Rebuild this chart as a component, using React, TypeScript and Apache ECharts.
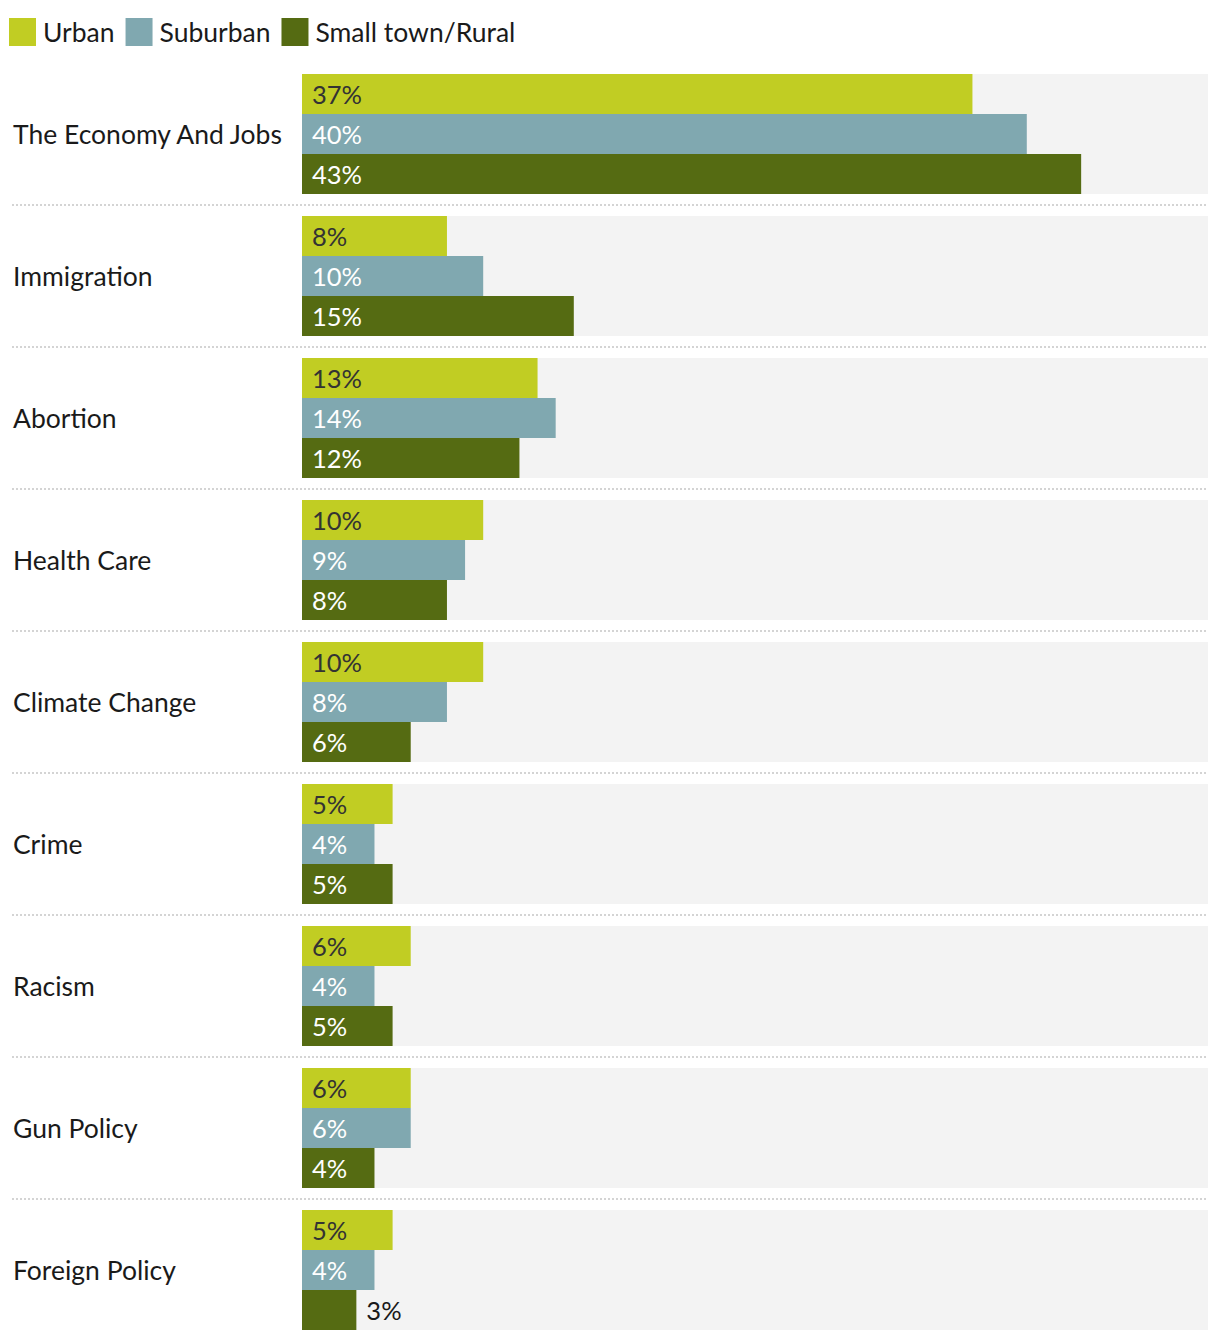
import React, { useEffect, useRef } from "react";
import * as echarts from "echarts";

const categories = [
  "The Economy And Jobs",
  "Immigration",
  "Abortion",
  "Health Care",
  "Climate Change",
  "Crime",
  "Racism",
  "Gun Policy",
  "Foreign Policy",
];
const seriesNames = ["Urban", "Suburban", "Small town/Rural"];
const urban = [37, 8, 13, 10, 10, 5, 6, 6, 5];
const suburban = [40, 10, 14, 9, 8, 4, 4, 6, 4];
const rural = [43, 15, 12, 8, 6, 5, 5, 4, 3];

const colors = ["#c1cd23", "#80a8b0", "#556b12"];
const labelColors = ["#333333", "#ffffff", "#ffffff"];
const FONT = "Lato, sans-serif";

export default function App() {
  const ref = useRef<HTMLDivElement>(null);
  useEffect(() => {
    if (!ref.current) return;
    const chart = echarts.init(ref.current, null, { renderer: "svg" });
    const all = [urban, suburban, rural];
    const series: any[] = all.map((vals, i) => ({
      name: seriesNames[i],
      type: "bar",
      xAxisIndex: 0,
      yAxisIndex: 0,
      barWidth: 40,
      barGap: "0%",
      showBackground: true,
      backgroundStyle: { color: "#f3f3f3" },
      itemStyle: { color: colors[i] },
      label: {
        show: true,
        position: "insideLeft",
        distance: 10,
        formatter: "{c}%",
        fontSize: 25.5,
        fontWeight: 400,
        fontFamily: FONT,
        color: labelColors[i],
      },
      data: vals.map((v) =>
        v < 4
          ? { value: v, label: { position: "right", distance: 10, color: "#1a1a1a" } }
          : v
      ),
    }));
    series.push({
      type: "line",
      xAxisIndex: 1,
      yAxisIndex: 1,
      data: [],
      silent: true,
    });
    chart.setOption({
      animation: false,
      textStyle: { fontFamily: FONT },
      legend: {
        data: seriesNames,
        left: 9,
        top: 18,
        padding: 0,
        itemWidth: 27,
        itemHeight: 28,
        itemGap: 11,
        icon: "rect",
        selectedMode: false,
        textStyle: {
          fontSize: 26.5,
          fontWeight: 400,
          color: "#1a1a1a",
          fontFamily: FONT,
          padding: [0, 0, 0, 2],
        },
      },
      grid: [
        { left: 302, right: 12, top: 63, height: 1278 },
        { left: 12, right: 12, top: 205, height: 994 },
      ],
      xAxis: [
        { type: "value", gridIndex: 0, min: 0, max: 50, show: false },
        { type: "value", gridIndex: 1, min: 0, max: 1, show: false },
      ],
      yAxis: [
        {
          type: "category",
          gridIndex: 0,
          data: categories,
          inverse: true,
          axisLine: { show: false },
          axisTick: { show: false },
          splitLine: { show: false },
          axisLabel: {
            align: "left",
            margin: 289,
            fontSize: 26.5,
            fontWeight: 400,
            color: "#1a1a1a",
            fontFamily: FONT,
          },
        },
        {
          type: "value",
          gridIndex: 1,
          min: 0,
          max: 7,
          interval: 1,
          axisLine: { show: false },
          axisTick: { show: false },
          axisLabel: { show: false },
          splitLine: {
            show: true,
            lineStyle: { color: "#d4d4d4", width: 2, type: [2, 2] },
          },
        },
      ],
      series,
    });
    return () => chart.dispose();
  }, []);
  return (
    <div
      ref={ref}
      style={{ position: "absolute", left: 0, top: 0, width: 1220, height: 1342 }}
    />
  );
}
